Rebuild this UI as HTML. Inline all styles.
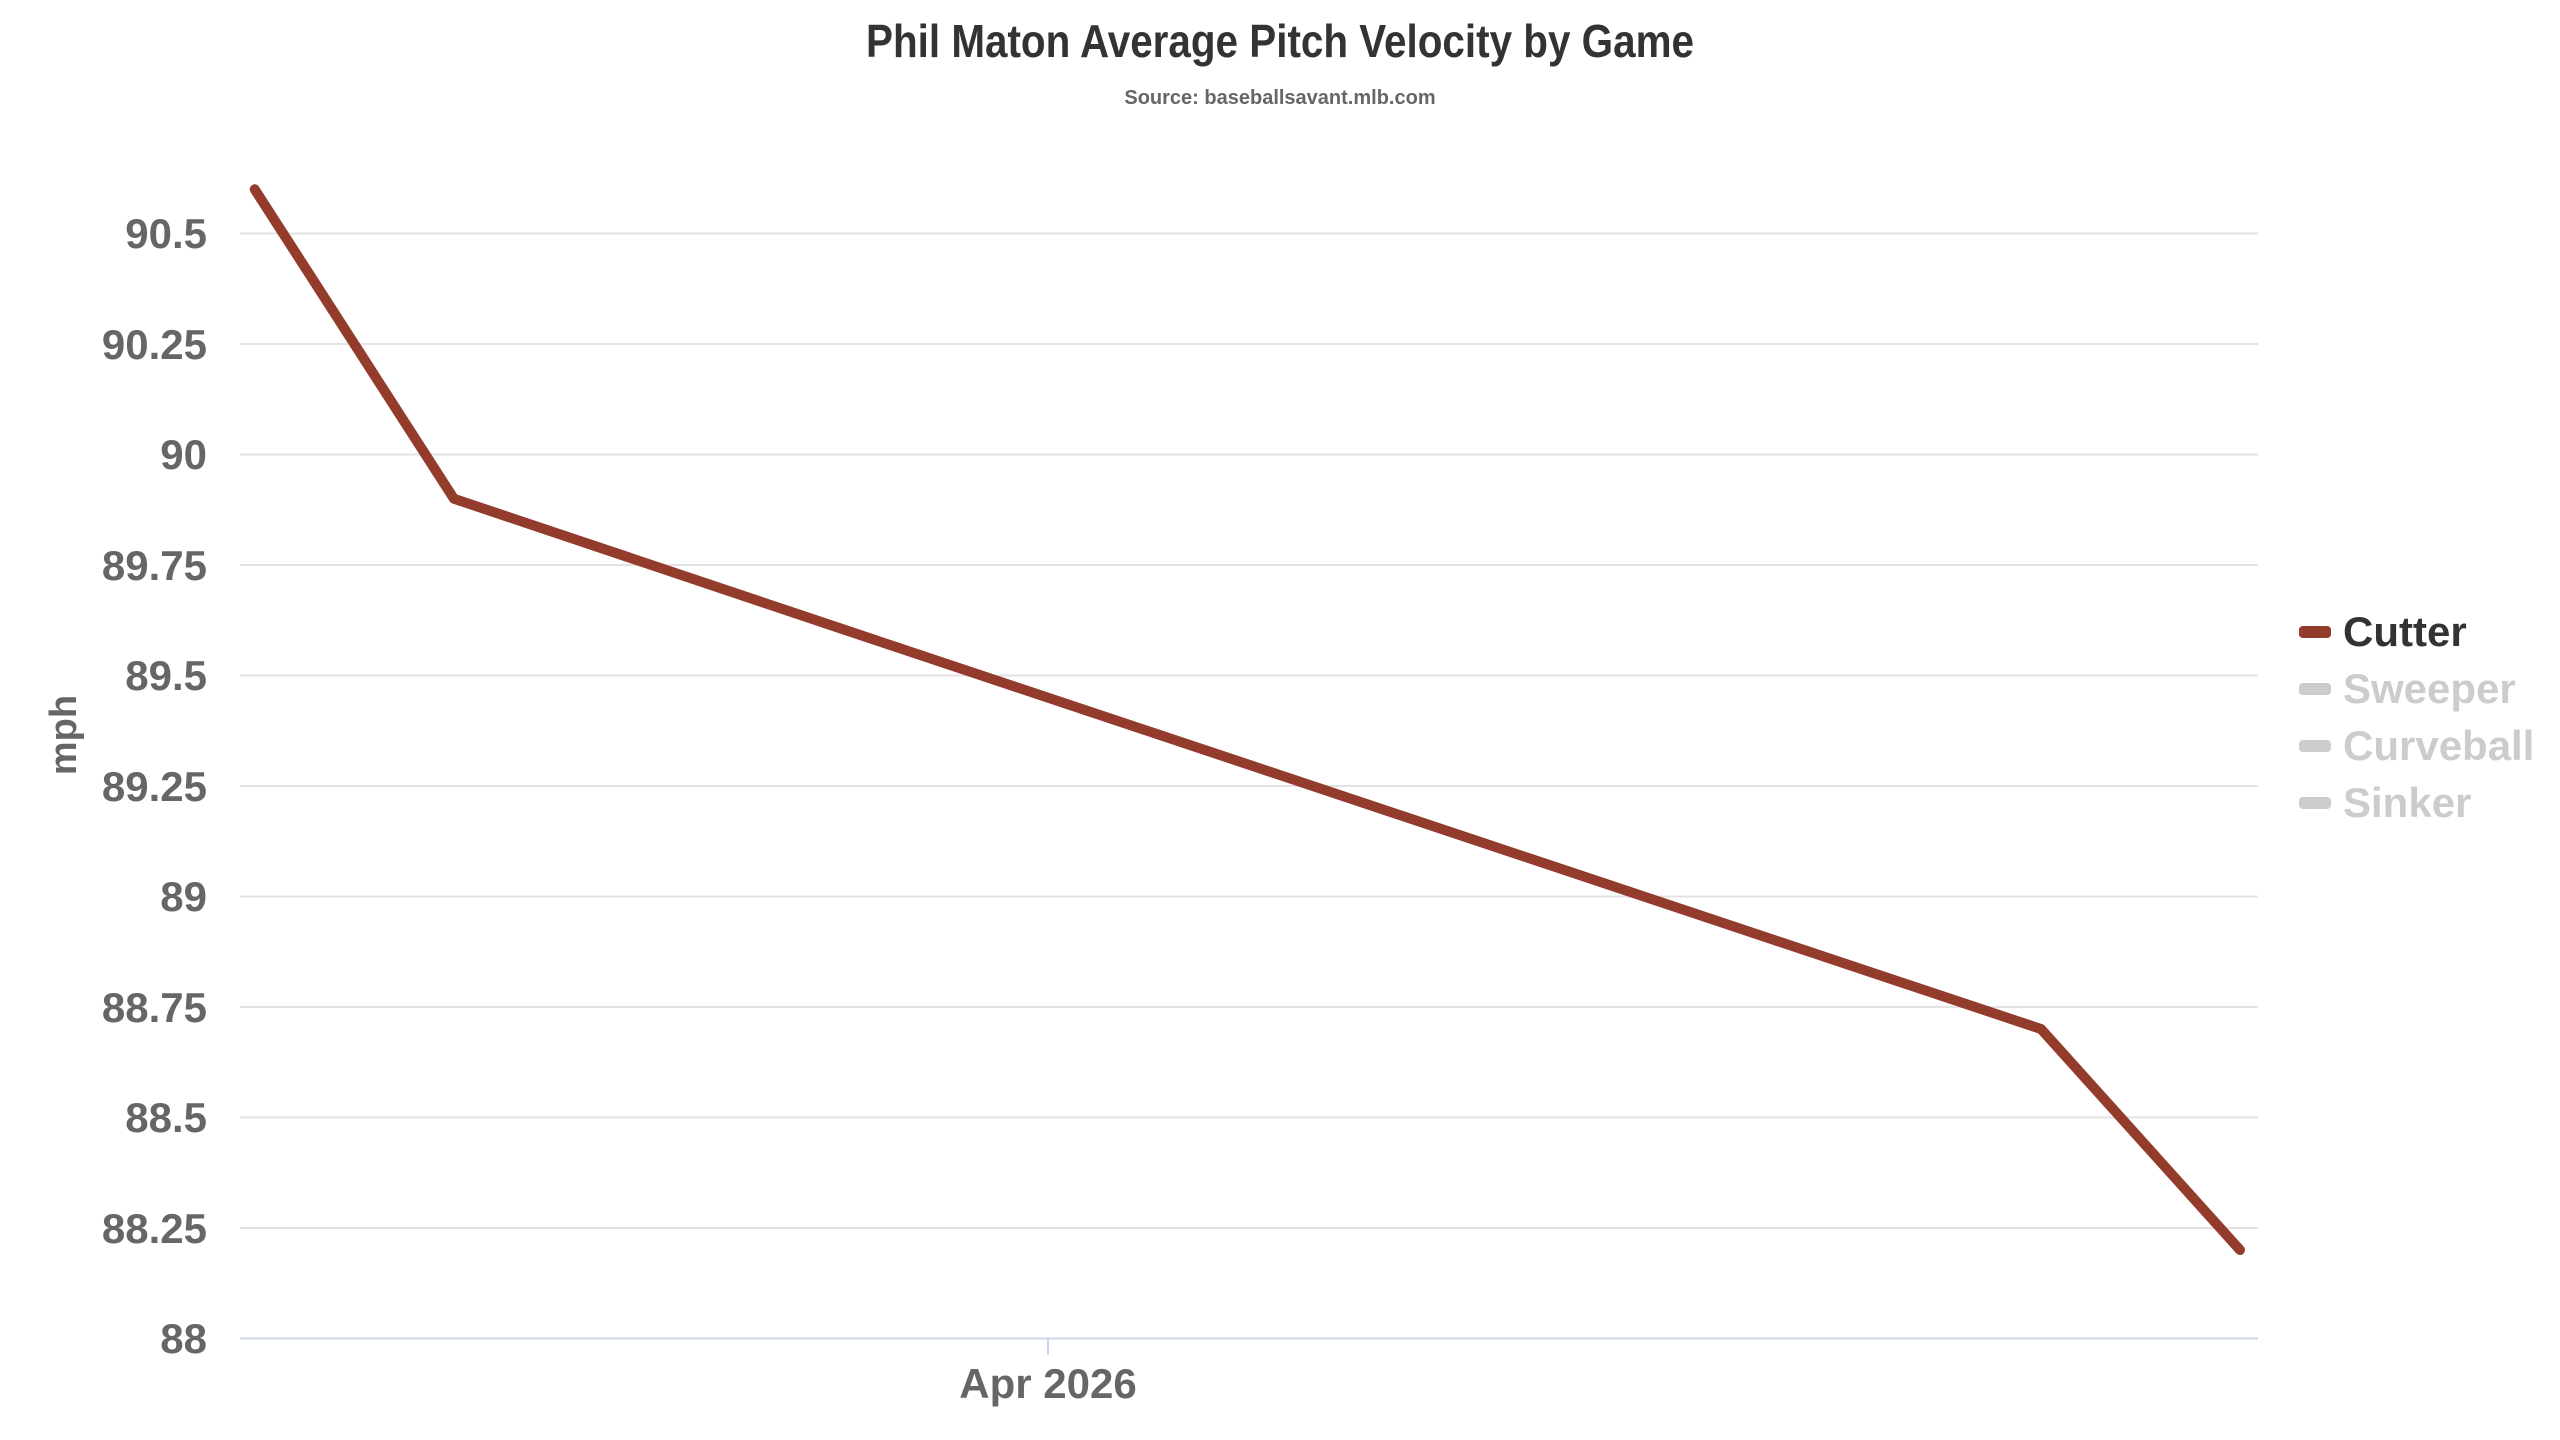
<!DOCTYPE html>
<html><head><meta charset="utf-8"><style>
html,body{margin:0;padding:0;background:#fff;}
svg{display:block;font-family:"Liberation Sans Narrow","Liberation Sans",sans-serif;font-weight:bold;}
</style></head><body>
<svg width="2560" height="1440" viewBox="0 0 2560 1440" xmlns="http://www.w3.org/2000/svg">
<rect width="2560" height="1440" fill="#fff"/>
<text x="1280" y="57" text-anchor="middle" font-size="46" fill="#333" textLength="828" lengthAdjust="spacingAndGlyphs">Phil Maton Average Pitch Velocity by Game</text>
<text x="1280" y="104" text-anchor="middle" font-size="20" fill="#666">Source: baseballsavant.mlb.com</text>
<g stroke="#e3e3e3" stroke-width="2">
<line x1="240" x2="2258" y1="233.5" y2="233.5"/>
<line x1="240" x2="2258" y1="344" y2="344"/>
<line x1="240" x2="2258" y1="454.5" y2="454.5"/>
<line x1="240" x2="2258" y1="565" y2="565"/>
<line x1="240" x2="2258" y1="675.5" y2="675.5"/>
<line x1="240" x2="2258" y1="786" y2="786"/>
<line x1="240" x2="2258" y1="896.5" y2="896.5"/>
<line x1="240" x2="2258" y1="1007" y2="1007"/>
<line x1="240" x2="2258" y1="1117.5" y2="1117.5"/>
<line x1="240" x2="2258" y1="1228" y2="1228"/>
</g>
<line x1="240" x2="2258" y1="1338.5" y2="1338.5" stroke="#ccd6eb" stroke-width="2"/>
<line x1="1048" x2="1048" y1="1338.5" y2="1355" stroke="#ccd6eb" stroke-width="2"/>
<g font-size="42" fill="#666" text-anchor="end">
<text x="207" y="248">90.5</text>
<text x="207" y="359">90.25</text>
<text x="207" y="469">90</text>
<text x="207" y="580">89.75</text>
<text x="207" y="690">89.5</text>
<text x="207" y="801">89.25</text>
<text x="207" y="911">89</text>
<text x="207" y="1022">88.75</text>
<text x="207" y="1132">88.5</text>
<text x="207" y="1243">88.25</text>
<text x="207" y="1353">88</text>
</g>
<text x="1048" y="1398" text-anchor="middle" font-size="42" fill="#666">Apr 2026</text>
<text transform="translate(76,735) rotate(-90)" text-anchor="middle" font-size="38" fill="#666">mph</text>
<polyline points="254.7,189.3 453.9,498.7 849,631.3 2041,1029 2240,1250" fill="none" stroke="#943c2b" stroke-width="10" stroke-linejoin="round" stroke-linecap="round"/>
<g font-size="42">
<rect x="2299" y="626" width="32" height="12" rx="4" fill="#943c2b"/>
<text x="2343" y="646" fill="#333">Cutter</text>
<rect x="2299" y="683" width="32" height="12" rx="4" fill="#ccc"/>
<text x="2343" y="703" fill="#ccc">Sweeper</text>
<rect x="2299" y="740" width="32" height="12" rx="4" fill="#ccc"/>
<text x="2343" y="760" fill="#ccc">Curveball</text>
<rect x="2299" y="797" width="32" height="12" rx="4" fill="#ccc"/>
<text x="2343" y="817" fill="#ccc">Sinker</text>
</g>
</svg>
</body></html>
